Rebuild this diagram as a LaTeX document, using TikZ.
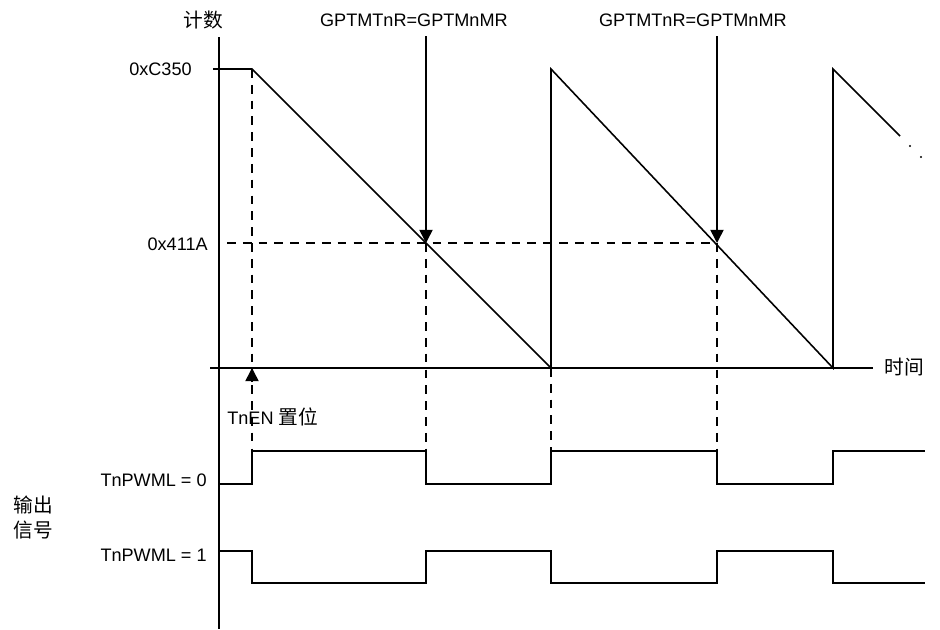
\documentclass[tikz,border=0pt]{standalone}
\usepackage{fontspec}
\setmainfont{Liberation Sans}
\newfontfamily\cjkfont{Noto Sans CJK SC}
\usetikzlibrary{arrows.meta, positioning}

\begin{document}
\begin{tikzpicture}[
    x=0.02cm, y=-0.02cm,
    >={Triangle[width=7.5pt, length=7.5pt]},
    every node/.style={font=\fontsize{10.3}{12}\selectfont, inner sep=0pt},
    axis/.style={line width=0.9pt},
    wave/.style={line width=0.9pt},
    guide/.style={line width=0.9pt, dash pattern=on 5pt off 4pt},
    cjk/.style={font=\cjkfont\fontsize{11.2}{13}\selectfont},
    matchlabel/.style={anchor=base east}
]
\useasboundingbox (0,0) rectangle (940,629);

% axes
\coordinate (ytop) at (219,37);
\coordinate (ybot) at (219,629);
\coordinate (tleft) at (210,368);
\coordinate (tright) at (873,368);
\draw[axis] (ytop) -- (ybot);
\draw[axis] (tleft) -- (tright);
\node[cjk] (count) at (203,20) {计数};
\node[cjk] (time) at (904,367) {时间};

% counter values
\coordinate (load0) at (213,69);
\coordinate (top1) at (252,69);
\coordinate (zero1) at (551,368);
\coordinate (top2) at (551,69);
\coordinate (zero2) at (833,368);
\coordinate (top3) at (833,69);
\coordinate (end3) at (900,136);
\node[anchor=east] (loadval) at (192,69) {0xC350};
\node[anchor=east] (matchval) at (208,244) {0x411A};

\draw[wave] (load0) -- (top1) -- (zero1) -- (top2) -- (zero2) -- (top3) -- (end3);
\fill (910,146) circle (0.6pt);
\fill (921,157) circle (0.6pt);

% match points
\coordinate (cross1) at (426,243);
\coordinate (cross2) at (717,243);
\coordinate (mleft) at (227,243);
\draw[guide] (mleft) -- (cross2);

\node[matchlabel] (match1) at (508,26) {GPTMTnR=GPTMnMR};
\node[matchlabel] (match2) at (787,26) {GPTMTnR=GPTMnMR};
\coordinate (mtop1) at (426,36);
\coordinate (mtop2) at (717,36);
\draw[wave, ->] (mtop1) -- (cross1);
\draw[wave, ->] (mtop2) -- (cross2);

% output levels
\coordinate (hi0) at (252,451);
\coordinate (hi1) at (426,451);
\coordinate (hi2) at (551,451);
\coordinate (hi3) at (717,451);
\draw[guide] (top1) -- (hi0);
\draw[guide] (cross1) -- (hi1);
\draw[guide] (zero1) -- (hi2);
\draw[guide] (cross2) -- (hi3);

% enable
\coordinate (enbase) at (252,382);
\coordinate (enzero) at (252,368);
\draw[wave, ->] (enbase) -- (enzero);
\node[anchor=west] (enable) at (227,417) {TnEN {\cjkfont\fontsize{11.2}{13}\selectfont 置位}};

% output signals
\node[anchor=east] (pwm0) at (207,480) {TnPWML = 0};
\node[anchor=east] (pwm1) at (207,555) {TnPWML = 1};
\node[cjk, anchor=west] (out1) at (13,505) {输出};
\node[cjk, anchor=west] (out2) at (13,530) {信号};

\draw[wave] (219,484) -- (252,484) -- (252,451) -- (426,451) -- (426,484) -- (551,484)
    -- (551,451) -- (717,451) -- (717,484) -- (833,484) -- (833,451) -- (925,451);
\draw[wave] (219,551) -- (252,551) -- (252,583) -- (426,583) -- (426,551) -- (551,551)
    -- (551,583) -- (717,583) -- (717,551) -- (833,551) -- (833,583) -- (925,583);

\end{tikzpicture}
\end{document}
